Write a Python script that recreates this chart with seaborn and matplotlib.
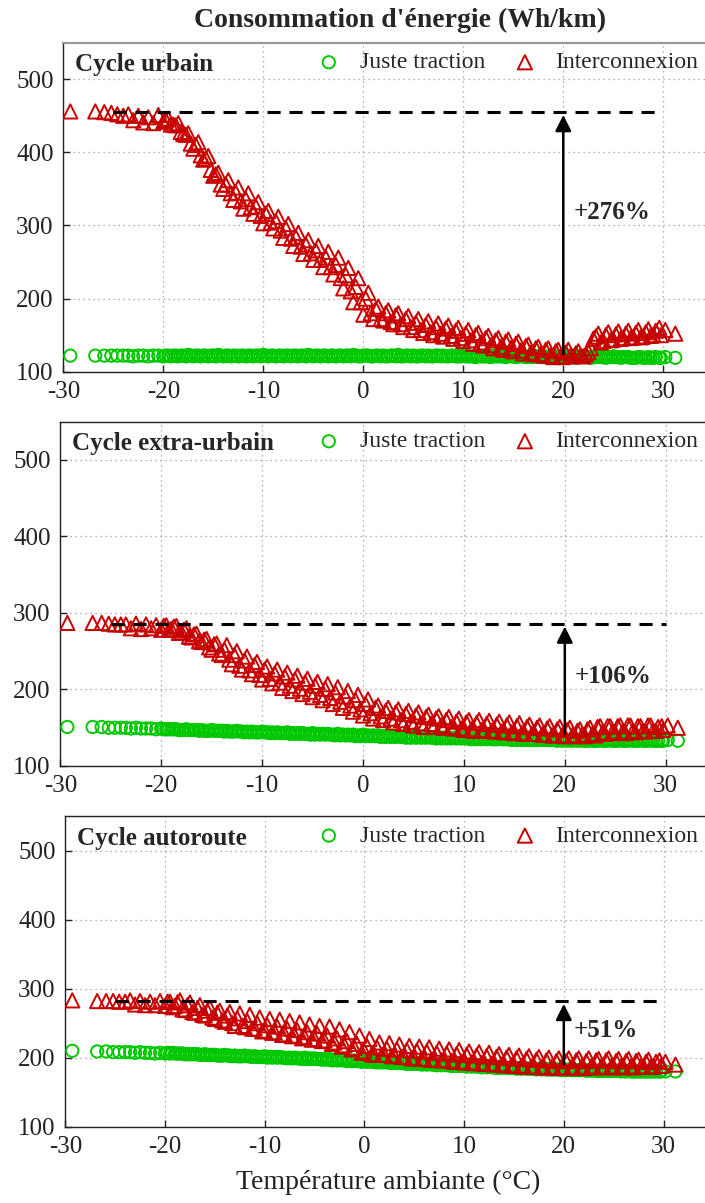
import matplotlib
matplotlib.use("Agg")
import matplotlib.pyplot as plt
import seaborn as sns
import pandas as pd

# temperatures (degC) of the first batch of points, shared by every panel
temps = [-29.3, -26.8, -25.9, -25.2, -24.6, -24.0,
         -23.5, -23.0, -22.5, -22.0, -21.5, -21.0, -20.5, -20.0, -19.5, -19.0,
         -18.5, -18.0, -17.5, -17.0, -16.5, -16.0, -15.5, -15.0, -14.5, -14.0,
         -13.5, -13.0, -12.5, -12.0, -11.5, -11.0, -10.5, -10.0, -9.5, -9.0,
         -8.5, -8.0, -7.5, -7.0, -6.5, -6.0, -5.5, -5.0, -4.5, -4.0,
         -3.5, -3.0, -2.5, -2.0, -1.5, -1.0, -0.5, 0.0, 0.5, 1.0,
         1.5, 2.0, 2.5, 3.0, 3.5, 4.0, 4.5, 5.0, 5.5, 6.0,
         6.5, 7.0, 7.5, 8.0, 8.5, 9.0, 9.5, 10.0, 10.5, 11.0,
         11.5, 12.0, 12.5, 13.0, 13.5, 14.0, 14.5, 15.0, 15.5, 16.0,
         16.5, 17.0, 17.5, 18.0, 18.5, 19.0, 19.5, 20.0, 20.5, 21.0,
         21.5, 22.0, 22.5, 23.0, 23.5, 24.0, 24.5, 25.0, 25.5, 26.0,
         26.5, 27.0, 27.5, 28.0, 28.5, 29.0, 29.6, 30.2, 31.2]

# second batch of points (the dense part of the cloud)
temps2 = [-19.75, -19.25, -18.75, -18.25, -17.75, -17.25, -16.75, -16.25, -15.75, -15.25,
          -14.75, -14.25, -13.75, -13.25, -12.75, -12.25, -11.75, -11.25, -10.75, -10.25,
          -9.75, -9.25, -8.75, -8.25, -7.75, -7.25, -6.75, -6.25, -5.75, -5.25,
          -4.75, -4.25, -3.75, -3.25, -2.75, -2.25, -1.75, -1.25, -0.75, -0.25,
          0.25, 0.75, 1.25, 1.75, 2.25, 2.75, 3.25, 3.75, 4.25, 4.75,
          5.25, 5.75, 6.25, 6.75, 7.25, 7.75, 8.25, 8.75, 9.25, 9.75,
          10.25, 10.75, 11.25, 11.75, 12.25, 12.75, 13.25, 13.75, 14.25, 14.75,
          15.25, 15.75, 16.25, 16.75, 17.25, 17.75, 18.25, 18.75, 19.25, 19.75,
          20.25, 20.75, 21.25, 21.75, 22.25, 22.75, 23.25, 23.75, 24.25, 24.75,
          25.25, 25.75, 26.25, 26.75, 27.25, 27.75, 28.25, 28.75, 29.25, 29.75]

# Cycle urbain
urb_trac = [122, 122, 122, 122, 122, 122,
            122, 121, 122, 122, 121, 122, 122, 121, 122, 122,
            121, 122, 123, 121, 122, 122, 121, 122, 123, 121,
            122, 122, 121, 122, 122, 121, 122, 123, 121, 122,
            122, 121, 122, 122, 121, 122, 123, 121, 122, 122,
            121, 122, 122, 121, 122, 123, 121, 122, 122, 121,
            122, 122, 121, 122, 123, 121, 122, 122, 121, 122,
            122, 121, 122, 122, 121, 122, 121, 122, 121, 121,
            122, 121, 121, 122, 121, 121, 122, 121, 121, 121,
            121, 120, 121, 120, 121, 120, 121, 120, 121, 120,
            120, 121, 120, 120, 121, 120, 120, 121, 120, 120,
            120, 119, 120, 119, 120, 119, 119, 120, 119]
urb_inter = [456, 456, 455, 454, 452, 450,
             452, 444, 450, 441, 448, 440, 451, 442, 446, 438,
             440, 425, 426, 405, 414, 390, 395, 368, 372, 350,
             362, 335, 352, 323, 344, 316, 332, 303, 320, 296,
             312, 283, 302, 272, 290, 261, 280, 253, 272, 243,
             264, 233, 256, 214, 242, 195, 228, 178, 208, 172,
             189, 170, 184, 165, 180, 161, 176, 157, 172, 153,
             169, 150, 166, 148, 163, 145, 160, 142, 157, 138,
             153, 136, 149, 132, 146, 130, 144, 128, 141, 125,
             137, 124, 134, 122, 132, 120, 130, 120, 130, 121,
             128, 121, 127, 145, 152, 142, 154, 144, 155, 146,
             156, 147, 157, 148, 158, 150, 160, 157, 152]
urb_trac2 = [122, 121, 122, 122, 121, 122, 122, 121, 122, 122,
             121, 122, 122, 121, 122, 122, 121, 122, 122, 121,
             122, 122, 121, 122, 122, 121, 122, 122, 121, 122,
             122, 121, 122, 122, 121, 122, 122, 121, 122, 121,
             122, 121, 122, 121, 121, 122, 121, 121, 122, 121,
             121, 122, 121, 121, 122, 121, 121, 122, 121, 121,
             121, 121, 120, 121, 121, 120, 121, 121, 120, 121,
             120, 121, 120, 120, 121, 120, 120, 121, 120, 120,
             120, 120, 119, 120, 120, 119, 120, 120, 119, 120,
             120, 119, 120, 119, 119, 120, 119, 119, 120, 119]
urb_inter2 = [444, 438, 437, 428, 424, 412, 410, 396, 392, 376,
              370, 356, 356, 344, 345, 333, 336, 325, 326, 313,
              316, 304, 306, 293, 296, 282, 284, 271, 274, 262,
              266, 253, 256, 243, 246, 228, 232, 210, 216, 195,
              200, 180, 186, 172, 180, 168, 177, 165, 172, 161,
              167, 157, 164, 154, 161, 152, 159, 149, 156, 146,
              152, 143, 150, 140, 146, 136, 143, 134, 141, 132,
              138, 129, 135, 126, 132, 124, 130, 122, 128, 121,
              126, 122, 125, 122, 124, 132, 148, 140, 150, 143,
              151, 145, 152, 146, 153, 147, 154, 149, 156, 150]

# Cycle extra-urbain
extra_trac = [151, 151, 151, 150, 150, 150,
              150, 149, 150, 149, 149, 149, 148, 149, 148, 148,
              148, 147, 148, 147, 147, 147, 146, 147, 146, 146,
              146, 145, 146, 145, 145, 145, 144, 145, 144, 144,
              144, 143, 144, 143, 143, 143, 142, 143, 142, 142,
              142, 141, 142, 141, 141, 141, 140, 141, 140, 140,
              140, 139, 140, 139, 139, 139, 138, 139, 138, 138,
              138, 137, 138, 137, 137, 137, 137, 137, 136, 136,
              136, 136, 136, 135, 136, 135, 135, 135, 135, 135,
              135, 134, 135, 134, 134, 134, 134, 134, 134, 134,
              134, 133, 134, 133, 134, 133, 134, 133, 134, 133,
              134, 133, 134, 133, 134, 133, 133, 134, 133]
extra_inter = [287, 287, 287, 286, 285, 285,
               285, 280, 286, 279, 285, 280, 284, 278, 284, 279,
               283, 275, 280, 268, 273, 262, 266, 252, 260, 245,
               258, 233, 250, 226, 243, 220, 236, 213, 230, 208,
               226, 202, 222, 198, 218, 194, 214, 190, 210, 186,
               207, 181, 203, 176, 198, 171, 193, 166, 187, 162,
               179, 160, 176, 157, 174, 155, 172, 153, 170, 151,
               167, 151, 165, 150, 164, 149, 162, 147, 160, 146,
               160, 146, 159, 145, 158, 144, 157, 143, 156, 142,
               154, 142, 153, 141, 152, 140, 151, 139, 150, 139,
               148, 139, 150, 140, 152, 142, 152, 143, 153, 143,
               153, 144, 152, 145, 153, 146, 152, 153, 150]
extra_trac2 = [148, 148, 148, 147, 147, 147, 147, 146, 146, 146,
               146, 146, 145, 145, 145, 145, 144, 144, 144, 144,
               144, 143, 143, 143, 143, 142, 142, 142, 142, 141,
               141, 141, 141, 141, 140, 140, 140, 140, 139, 139,
               139, 139, 139, 138, 138, 138, 138, 138, 137, 137,
               137, 137, 137, 137, 136, 136, 136, 136, 136, 136,
               136, 135, 135, 135, 135, 135, 135, 135, 135, 134,
               134, 134, 134, 134, 134, 134, 134, 134, 133, 133,
               133, 133, 133, 133, 133, 133, 133, 133, 133, 133,
               133, 133, 133, 133, 133, 133, 133, 133, 133, 133]
extra_inter2 = [283, 278, 282, 274, 278, 269, 272, 263, 265, 255,
                259, 247, 252, 239, 245, 231, 238, 225, 232, 219,
                226, 214, 221, 209, 217, 205, 213, 201, 209, 197,
                205, 193, 201, 189, 196, 184, 191, 179, 186, 174,
                181, 169, 176, 165, 172, 162, 170, 160, 168, 158,
                166, 156, 164, 155, 162, 153, 160, 151, 158, 149,
                157, 148, 156, 147, 155, 146, 154, 145, 153, 144,
                152, 143, 151, 142, 150, 141, 149, 140, 148, 140,
                147, 140, 146, 141, 148, 142, 151, 144, 152, 145,
                152, 145, 153, 146, 152, 146, 153, 146, 151, 147]

# Cycle autoroute
auto_trac = [210, 209, 209, 208, 208, 208,
             208, 207, 208, 207, 207, 206, 207, 206, 206, 206,
             206, 205, 205, 205, 204, 205, 204, 204, 203, 204,
             203, 203, 202, 203, 202, 202, 201, 202, 201, 201,
             201, 200, 200, 200, 199, 200, 199, 199, 198, 198,
             198, 197, 197, 197, 196, 196, 195, 196, 195, 194,
             194, 194, 193, 193, 193, 192, 192, 192, 191, 191,
             191, 190, 190, 190, 189, 189, 189, 188, 188, 188,
             187, 187, 187, 186, 186, 186, 185, 185, 185, 185,
             184, 184, 184, 184, 183, 183, 183, 183, 183, 182,
             182, 182, 182, 182, 181, 181, 181, 181, 181, 181,
             181, 180, 180, 180, 180, 180, 180, 180, 180]
auto_inter = [283, 282, 282, 282, 281, 281,
              283, 277, 282, 276, 281, 276, 282, 275, 281, 275,
              283, 269, 280, 265, 276, 261, 272, 256, 268, 252,
              266, 246, 264, 244, 262, 242, 258, 239, 256, 237,
              255, 234, 253, 232, 251, 230, 248, 227, 246, 225,
              245, 222, 241, 218, 237, 214, 232, 209, 227, 204,
              222, 204, 221, 203, 219, 201, 217, 199, 216, 198,
              215, 197, 213, 196, 212, 194, 211, 193, 209, 192,
              208, 191, 207, 190, 205, 189, 204, 188, 203, 187,
              202, 187, 201, 186, 200, 185, 199, 185, 199, 185,
              199, 185, 199, 186, 198, 186, 199, 186, 198, 186,
              198, 186, 197, 187, 197, 187, 196, 194, 190]
auto_trac2 = [207, 207, 206, 206, 205, 205, 205, 204, 204, 204,
              203, 203, 203, 202, 202, 202, 202, 201, 201, 201,
              200, 200, 200, 200, 199, 199, 199, 198, 198, 198,
              198, 197, 197, 196, 196, 196, 195, 195, 195, 194,
              194, 194, 193, 193, 193, 192, 192, 192, 191, 191,
              191, 190, 190, 190, 189, 189, 189, 188, 188, 188,
              187, 187, 187, 186, 186, 186, 185, 185, 185, 185,
              184, 184, 184, 184, 183, 183, 183, 183, 183, 182,
              182, 182, 182, 182, 181, 181, 181, 181, 181, 181,
              181, 180, 180, 180, 180, 180, 180, 180, 180, 180]
auto_inter2 = [281, 273, 280, 270, 276, 266, 272, 262, 268, 258,
               265, 254, 261, 250, 257, 246, 253, 242, 250, 238,
               247, 236, 245, 233, 242, 231, 240, 228, 237, 226,
               235, 224, 232, 220, 228, 216, 224, 212, 220, 207,
               217, 205, 215, 204, 213, 202, 212, 201, 211, 199,
               210, 198, 209, 197, 207, 196, 206, 195, 205, 194,
               204, 193, 203, 192, 202, 191, 201, 190, 200, 189,
               199, 188, 198, 187, 197, 186, 196, 186, 195, 186,
               195, 186, 196, 186, 195, 187, 196, 187, 196, 187,
               195, 187, 195, 187, 195, 187, 194, 187, 194, 188]

cycles = ["Cycle urbain", "Cycle extra-urbain", "Cycle autoroute"]
traction = [urb_trac + urb_trac2, extra_trac + extra_trac2, auto_trac + auto_trac2]
interco = [urb_inter + urb_inter2, extra_inter + extra_inter2, auto_inter + auto_inter2]
peak = [455, 286, 282]
base = [120, 138, 186]
gain = ["+276%", "+106%", "+51%"]
gain_y = [318, 217, 240]

sns.set_style("ticks")
plt.rcParams["font.family"] = ["Liberation Serif", "DejaVu Serif"]
plt.rcParams["xtick.direction"] = "in"
plt.rcParams["ytick.direction"] = "in"
plt.rcParams["axes.unicode_minus"] = False

green = "#00c800"
red = "#c80000"

fig = plt.figure(figsize=(7.05, 12.03), dpi=100)
W, H = 705.0, 1203.0
# left, top, bottom in pixels, px per degree
boxes = [(63.3, 42.7, 371.7, 10.0), (60.3, 421.7, 766.0, 10.09), (65.3, 816.0, 1126.7, 9.97)]

for i, (left, top, bottom, ppd) in enumerate(boxes):
    hgt = bottom - top
    ax = fig.add_axes([left / W, 1 - bottom / H, 65 * ppd / W, hgt / H])
    df = pd.DataFrame({"T": temps + temps2, "trac": traction[i], "inter": interco[i]})
    sns.scatterplot(data=df, x="T", y="trac", marker="o", s=78, facecolors="none",
                    edgecolor=green, linewidth=1.4, ax=ax, label="Juste traction", zorder=3)
    sns.scatterplot(data=df, x="T", y="inter", marker="^", s=105, facecolors="none",
                    edgecolor=red, linewidth=1.4, ax=ax, label="Interconnexion", zorder=4)
    ax.plot([-25, 30], [peak[i], peak[i]], color="k", lw=2.2, dashes=(4.3, 2.9), zorder=5)
    ax.annotate("", xy=(20, peak[i]), xytext=(20, base[i]),
                arrowprops=dict(arrowstyle="-|>", color="k", lw=1.8, mutation_scale=24), zorder=6)
    ax.text(21, gain_y[i], gain[i], fontsize=18, fontweight="bold", va="center", ha="left")
    ax.text(12 / (65 * ppd), 1 - 22 / hgt, cycles[i], transform=ax.transAxes, fontsize=18,
            fontweight="bold", va="center", ha="left")

    ax.set_xlim(-30, 35)
    ax.set_ylim(100, 550)
    ax.set_xticks([-30, -20, -10, 0, 10, 20, 30])
    ax.set_yticks([100, 200, 300, 400, 500])
    ax.tick_params(labelsize=18, length=5, width=1, colors="#222222")
    ax.tick_params(axis="x", pad=6.5)
    ax.tick_params(axis="y", pad=7)
    ax.grid(True, linestyle=(0, (1, 3)), color="#999999", lw=0.9)
    ax.set_xlabel("")
    ax.set_ylabel("")
    for sp in ["left", "bottom", "top"]:
        ax.spines[sp].set_color("#222222")
        ax.spines[sp].set_linewidth(1.0)
    ax.spines["right"].set_visible(False)
    if i == 0:
        ax.spines["top"].set_color("#999999")
        ax.spines["top"].set_linewidth(1.6)

    ax.legend(loc="center left", bbox_to_anchor=((317 - left) / (65 * ppd), 1 - 20 / hgt),
              ncol=2, frameon=False, fontsize=17, handlelength=1.0, handletextpad=0.8,
              columnspacing=1.2, borderaxespad=0, borderpad=0)

fig.text(400 / W, 1 - 20 / H, "Consommation d'énergie (Wh/km)", fontsize=20,
         fontweight="bold", ha="center", va="center")
fig.text(388 / W, 1 - 1182 / H, "Température ambiante (°C)", fontsize=20,
         ha="center", va="center", color="#222222")

fig.savefig("out.png", dpi=100)
